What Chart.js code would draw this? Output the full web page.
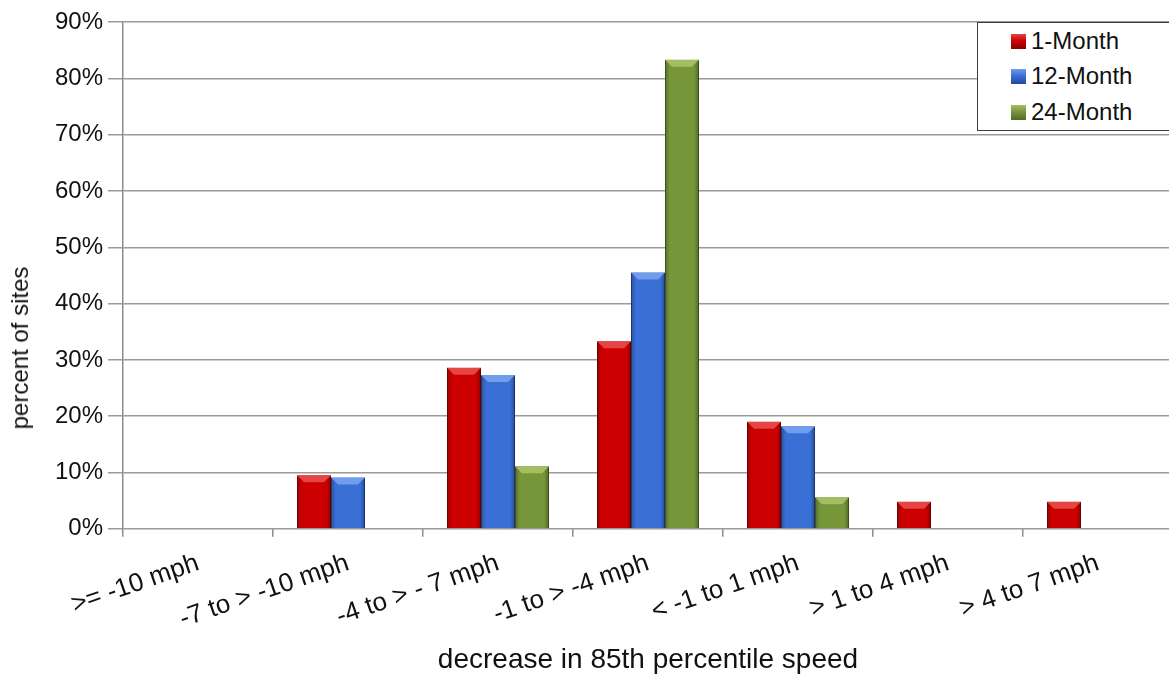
<!DOCTYPE html>
<html>
<head>
<meta charset="utf-8">
<script src="https://cdn.jsdelivr.net/npm/chart.js@4.4.1/dist/chart.umd.min.js"></script>
<style>
  html, body { margin: 0; padding: 0; background: #fff; overflow: hidden; }
  #wrap { position: relative; width: 1169px; height: 677px; overflow: hidden; }
  #chart { position: absolute; left: 0; top: 0; }
  #legend {
    position: absolute; left: 977px; top: 22px; width: 230px; height: 107px;
    border: 1.5px solid #3c3c3c; background: #fff;
    font-family: "Liberation Sans", Arial, sans-serif; font-size: 24px; color: #111;
  }
  .item { position: absolute; left: 33px; height: 30px; display: flex; align-items: center; }
  .swatch { width: 15px; height: 15px; margin-right: 5px; }
  #ytitle {
    position: absolute; left: 20px; top: 348px; white-space: nowrap;
    transform: translate(-50%, -50%) rotate(-90deg);
    font-family: "Liberation Sans", Arial, sans-serif; font-size: 24px; color: #111;
  }
</style>
</head>
<body>
<div id="wrap">
  <canvas id="chart" width="1173" height="677"></canvas>
  <div id="ytitle">percent of sites</div>
  <div id="legend"></div>
</div>
<script>
// Data
const categories = ['>= -10 mph', '-7 to > -10 mph', '-4 to > - 7 mph', '-1 to > -4 mph', '< -1 to 1 mph', '> 1 to 4 mph', '> 4 to 7 mph'];
const month1 = [0, 9.5, 28.6, 33.3, 19.0, 4.8, 4.8];
const month12 = [0, 9.1, 27.3, 45.5, 18.2, 0, 0];
const month24 = [0, 0, 11.1, 83.3, 5.6, 0, 0];
const seriesNames = ['1-Month', '12-Month', '24-Month'];

const shades = [
  { base: '#cc0000', dark: '#8a0000', light: '#e64545' },
  { base: '#3a6fd6', dark: '#22489a', light: '#6f9cec' },
  { base: '#77963a', dark: '#536a26', light: '#a3bf62' },
];

const fontFamily = '"Liberation Sans", Arial, sans-serif';

// Draws the side shading and top chamfer on each bar
const bevelPlugin = {
  id: 'bevel',
  afterDatasetDraw(chart, args) {
    const ctx = chart.ctx;
    const shade = shades[args.index];
    args.meta.data.forEach(bar => {
      const { x, y, base, width } = bar.getProps(['x', 'y', 'base', 'width'], true);
      const h = base - y;
      if (h < 1) return;
      const left = x - width / 2, right = x + width / 2;
      ctx.save();
      const g = ctx.createLinearGradient(left, 0, right, 0);
      g.addColorStop(0, 'rgba(0,0,0,0.28)');
      g.addColorStop(0.14, 'rgba(0,0,0,0)');
      g.addColorStop(0.86, 'rgba(0,0,0,0)');
      g.addColorStop(1, 'rgba(0,0,0,0.32)');
      ctx.fillStyle = g;
      ctx.fillRect(left, y, width, h);
      const d = Math.min(7, h / 2);
      ctx.beginPath();
      ctx.moveTo(left, y);
      ctx.lineTo(right, y);
      ctx.lineTo(right - d, y + d);
      ctx.lineTo(left + d, y + d);
      ctx.closePath();
      ctx.fillStyle = shade.light;
      ctx.fill();
      ctx.restore();
    });
  }
};

function makeDataset(label, values, i) {
  return {
    label: label,
    data: values,
    backgroundColor: shades[i].base,
    borderColor: shades[i].dark,
    borderWidth: ctx => (ctx.raw > 0 ? 1 : 0),
    categoryPercentage: 0.68,
    barPercentage: 1.0,
  };
}

const chart = new Chart(document.getElementById('chart').getContext('2d'), {
  type: 'bar',
  data: {
    labels: categories,
    datasets: [
      makeDataset(seriesNames[0], month1, 0),
      makeDataset(seriesNames[1], month12, 1),
      makeDataset(seriesNames[2], month24, 2),
    ]
  },
  options: {
    responsive: false,
    animation: false,
    layout: { padding: { left: 50, top: 22, right: 0, bottom: 3 } },
    plugins: {
      legend: { display: false },
      tooltip: { enabled: false },
    },
    scales: {
      x: {
        grid: { drawOnChartArea: false, offset: true, tickLength: 8, color: '#8c8c8c', lineWidth: 1.5 },
        border: { display: false },
        ticks: {
          color: '#111', font: { family: fontFamily, size: 26 },
          minRotation: 19, maxRotation: 19, padding: 11,
        },
        title: {
          display: true, text: 'decrease in 85th percentile speed',
          color: '#111', font: { family: fontFamily, size: 28, lineHeight: 1.0 },
          padding: { top: 0, bottom: 0 },
        },
      },
      y: {
        min: 0, max: 90,
        grid: { color: '#9a9a9a', lineWidth: 1.5, tickLength: 15 },
        border: { color: '#8c8c8c', width: 1.5 },
        ticks: {
          stepSize: 10, color: '#111', font: { family: fontFamily, size: 24 }, padding: 5,
          callback: v => v + '%',
        },
      },
    },
  },
  plugins: [bevelPlugin],
});

// Boxed legend in the top-right corner, built from the datasets
const legendEl = document.getElementById('legend');
const rowTops = [3, 38, 74];
chart.data.datasets.forEach((ds, i) => {
  const item = document.createElement('div');
  item.className = 'item';
  item.style.top = rowTops[i] + 'px';
  const sw = document.createElement('span');
  sw.className = 'swatch';
  sw.style.background = `linear-gradient(to bottom, ${shades[i].light} 0%, ${shades[i].base} 45%, ${shades[i].dark} 100%)`;
  const txt = document.createElement('span');
  txt.textContent = ds.label;
  item.appendChild(sw);
  item.appendChild(txt);
  legendEl.appendChild(item);
});
</script>
</body>
</html>
